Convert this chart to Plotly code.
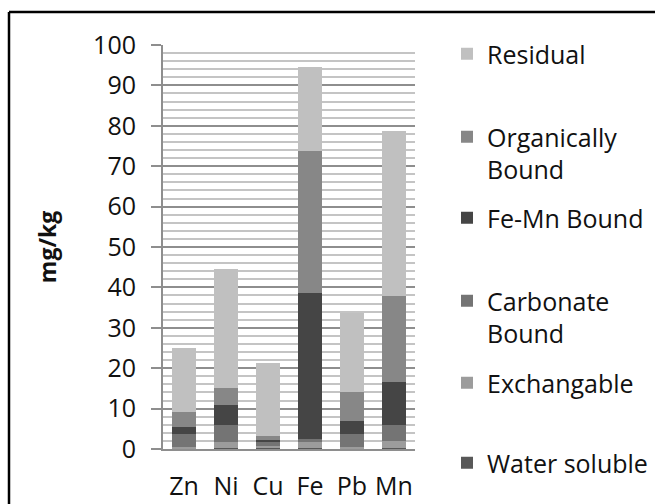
import plotly.graph_objects as go

metals = ["Zn", "Ni", "Cu", "Fe", "Pb", "Mn"]

water_soluble = [0.2, 0.2, 0.2, 0.2, 0.2, 0.2]
exchangable = [0.4, 1.45, 0.5, 1.45, 0.4, 1.9]
carbonate_bound = [3.1, 4.25, 0.95, 0.85, 3.1, 3.8]
fe_mn_bound = [1.7, 5.0, 0.55, 36.0, 3.3, 10.8]
organically_bound = [3.8, 4.2, 1.0, 35.3, 7.2, 21.2]
residual = [15.8, 29.5, 18.0, 20.7, 19.5, 40.9]

series_names = ["Water soluble", "Exchangable", "Carbonate<br>Bound", "Fe-Mn Bound",
                "Organically<br>Bound", "Residual"]
series_values = [water_soluble, exchangable, carbonate_bound, fe_mn_bound,
                 organically_bound, residual]
series_colors = ["#585858", "#9c9c9c", "#747474", "#454545", "#878787", "#c0c0c0"]
legend_centers_px = [463, 383, 301, 218, 137, 54]

FONT = "Open Sans"
PL, PR, PT, PB = 163, 415, 45, 449
W, H = 655, 504

def px_x(px):
    return (px - PL) / (PR - PL)

def px_y(py):
    return (PB - py) / (PB - PT)

fig = go.Figure()
legend_ids = ["legend", "legend2", "legend3", "legend4", "legend5", "legend6"]
for name, vals, col, lid in zip(series_names, series_values, series_colors, legend_ids):
    fig.add_trace(go.Bar(x=metals, y=vals, name=name, marker_color=col,
                         marker_line_width=0, legend=lid))

layout_legends = {}
for lid, cy in zip(legend_ids, legend_centers_px):
    layout_legends[lid] = dict(
        x=px_x(447), xanchor="left", y=px_y(cy - 23), yanchor="top",
        bgcolor="rgba(0,0,0,0)", font=dict(family=FONT, size=25, color="#111"),
        valign="top", borderwidth=0,
    )

fig.update_layout(
    width=W, height=H,
    margin=dict(l=PL, r=W - PR, t=PT, b=H - PB, autoexpand=False),
    paper_bgcolor="white", plot_bgcolor="white",
    barmode="stack", bargap=0.43,
    showlegend=True,
    font=dict(family=FONT, size=25, color="#111"),
    **layout_legends,
)

fig.update_yaxes(
    range=[0, 100], dtick=10, tick0=0,
    showgrid=True, gridcolor="#8e8e8e", gridwidth=1.5,
    minor=dict(dtick=2, showgrid=True, gridcolor="#c4c4c4", gridwidth=1.5),
    showline=True, linecolor="#8e8e8e", linewidth=2,
    ticks="outside", ticklen=10, tickcolor="#8e8e8e", tickwidth=1.5,
    ticklabelstandoff=10,
    tickfont=dict(family=FONT, size=25, color="#111"),
    title=dict(text="<b>mg/kg</b>", font=dict(family=FONT, size=23, color="#111"), standoff=30),
    zeroline=False, fixedrange=True,
)
fig.update_xaxes(
    showline=True, linecolor="#8e8e8e", linewidth=2,
    ticks="", ticklabelstandoff=14,
    tickfont=dict(family=FONT, size=25, color="#111"),
    fixedrange=True,
)

# outer chart border (right and bottom edges fall outside the picture)
bx, by = px_x(9), px_y(12)
fig.add_shape(type="line", xref="paper", yref="paper", x0=bx, x1=bx, y0=px_y(520), y1=by,
              line=dict(color="black", width=2.5))
fig.add_shape(type="line", xref="paper", yref="paper", x0=bx, x1=px_x(670), y0=by, y1=by,
              line=dict(color="black", width=2.5))

fig.write_html("out.html")
